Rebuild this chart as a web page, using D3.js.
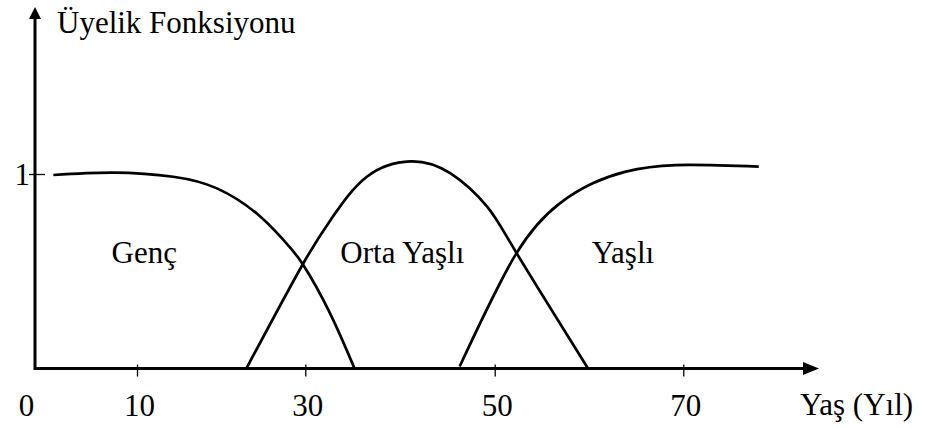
<!DOCTYPE html>
<html>
<head>
<meta charset="utf-8">
<script src="https://cdn.jsdelivr.net/npm/d3@7"></script>
<style>
	body { margin: 0; background: #fff; }
	svg text { font-family: "Liberation Serif", "DejaVu Serif", serif; font-size: 31px; fill: #000; }
</style>
</head>
<body>
<div id="chart"></div>
<script>
// Tick values
var xTicks = [0, 10, 30, 50, 70];
var yTicks = [1];

// Set names
var names = ["Genç", "Orta Yaşlı", "Yaşlı"];

// Membership curves, [age, membership]
var genc = [[1.8, 0.995], [7.7, 1.007], [14.3, 0.986], [19.5, 0.926], [24.2, 0.798], [27.4, 0.661], [29.7, 0.536], [32.6, 0.285], [35.2, 0]];
var ortaYasli = [[23.0, 0], [29.7, 0.536], [32.9, 0.78], [36.5, 0.986], [41.1, 1.065], [45.3, 1.004], [49.2, 0.832], [52.3, 0.595], [59.9, 0]];
var yasli = [[46.3, 0.01], [52.3, 0.592], [56.9, 0.849], [60.4, 0.952], [63.9, 1.012], [69.2, 1.046], [78.0, 1.038]];

var series = [genc, ortaYasli, yasli];

// Layout
var width = 925, height = 428;
var x0 = 35, y0 = 368.5;
var labelPos = [[7.5, 0.54], [33.7, 0.54], [60.3, 0.54]];

var svg = d3.select("#chart").append("svg")
		.attr("width", width)
		.attr("height", height)
		.attr("font-family", "Liberation Serif, DejaVu Serif, serif");

// The x axis of the drawing is not evenly spaced
var xScale = d3.scaleLinear()
		.domain(xTicks)
		.range([x0, 137, 305.3, 494.7, 683.3]);

var yScale = d3.scaleLinear()
		.domain([0, 1])
		.range([y0, 174]);

// Axis lines
svg.append("line")
		.attr("x1", x0).attr("y1", y0)
		.attr("x2", 806).attr("y2", y0)
		.attr("stroke", "#000").attr("stroke-width", 3);

svg.append("line")
		.attr("x1", x0).attr("y1", y0 + 1.5)
		.attr("x2", x0).attr("y2", 16)
		.attr("stroke", "#000").attr("stroke-width", 3);

// Arrow heads
svg.append("path")
		.attr("d", "M803," + (y0 - 6.5) + "L819," + y0 + "L803," + (y0 + 6.5) + "Z")
		.attr("fill", "#000");

svg.append("path")
		.attr("d", "M" + (x0 - 6) + ",19L" + x0 + ",7L" + (x0 + 6) + ",19Z")
		.attr("fill", "#000");

// X ticks and labels
var xAxis = d3.axisBottom(xScale)
		.tickValues(xTicks)
		.tickSize(12)
		.tickPadding(17)
		.tickFormat(d3.format("d"));

var gx = svg.append("g")
		.attr("transform", "translate(0," + (y0 - 4) + ")")
		.call(xAxis);

gx.attr("font-family", null).attr("font-size", null);
gx.select(".domain").remove();
gx.selectAll(".tick line").attr("stroke", "#000").attr("stroke-width", 1.3);
gx.selectAll(".tick text")
		.attr("fill", "#000")
		.attr("dx", 2);
gx.selectAll(".tick").filter(function(d) { return d === 0; }).select("line").remove();
gx.selectAll(".tick").filter(function(d) { return d === 0; }).select("text").attr("dx", -9);

// Y ticks and labels
var yAxis = d3.axisLeft(yScale)
		.tickValues(yTicks)
		.tickSize(16)
		.tickPadding(-1)
		.tickFormat(d3.format("d"));

var gy = svg.append("g")
		.attr("transform", "translate(" + (x0 + 10) + ",0)")
		.call(yAxis);

gy.attr("font-family", null).attr("font-size", null);
gy.select(".domain").remove();
gy.selectAll(".tick line").attr("stroke", "#000").attr("stroke-width", 1.3);
gy.selectAll(".tick text")
		.attr("fill", "#000")
		.attr("dy", "0.35em");

// Axis titles
svg.append("text")
		.attr("x", 57)
		.attr("y", 33)
		.text("Üyelik Fonksiyonu");

svg.append("text")
		.attr("x", 800)
		.attr("y", 415)
		.text("Yaş (Yıl)");

// Curves
var line = d3.line()
		.x(function(d) { return xScale(d[0]); })
		.y(function(d) { return yScale(d[1]); })
		.curve(d3.curveNatural);

svg.selectAll(".curve")
		.data(series)
	.enter().append("path")
		.attr("class", "curve")
		.attr("d", line)
		.attr("fill", "none")
		.attr("stroke", "#000")
		.attr("stroke-width", 2.7);

// Set labels
svg.selectAll(".set-label")
		.data(names)
	.enter().append("text")
		.attr("class", "set-label")
		.attr("x", function(d, i) { return xScale(labelPos[i][0]); })
		.attr("y", function(d, i) { return yScale(labelPos[i][1]); })
		.text(function(d) { return d; });
</script>
</body>
</html>
